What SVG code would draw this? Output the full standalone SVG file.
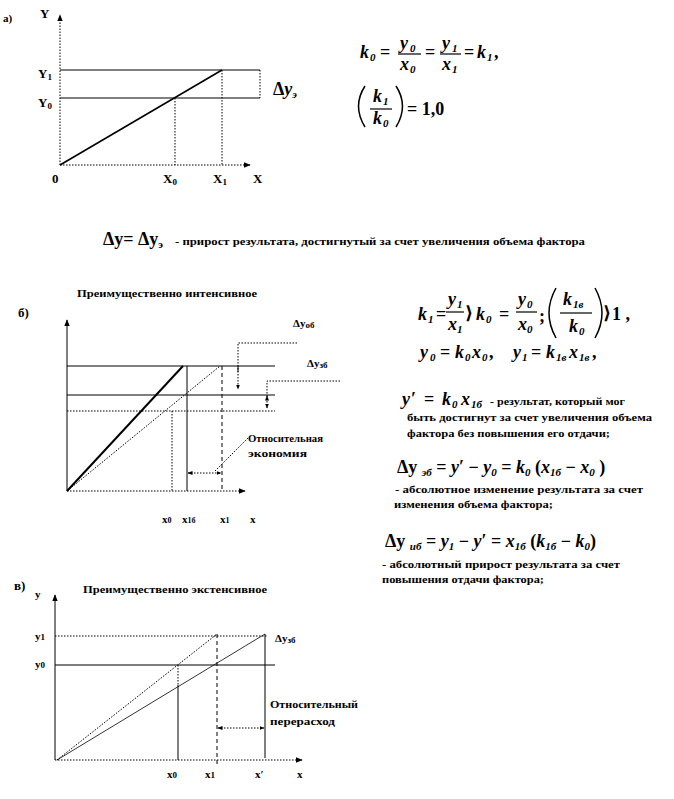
<svg xmlns="http://www.w3.org/2000/svg" width="674" height="799" viewBox="0 0 674 799" font-family="'Liberation Serif', 'DejaVu Serif', serif">
<defs>
<style>
text{font-family:"Liberation Serif","DejaVu Serif",serif;fill:#000}
.t{font-weight:bold;font-size:11px}
.L{font-weight:bold;font-size:13px}
.f{font-weight:bold;font-style:italic;font-size:18px}
.o{font-weight:bold;font-size:18px}
.b{font-weight:bold;font-style:italic;font-size:11px}
.sol{stroke:#000;stroke-width:1;fill:none}
.thk{stroke:#000;stroke-width:2;fill:none}
.dot{stroke:#000;stroke-width:1;stroke-dasharray:1.5 1.5;fill:none}
.dsh{stroke:#000;stroke-width:1;stroke-dasharray:4 3;fill:none}
.bar{stroke:#000;stroke-width:1.2}
.par{stroke:#000;stroke-width:1.5;fill:none}
</style>
<marker id="ar" viewBox="0 0 10 10" refX="9" refY="5" markerWidth="7" markerHeight="7" orient="auto-start-reverse"><path d="M0,1 L10,5 L0,9 z" fill="#000"/></marker>
<marker id="as" viewBox="0 0 10 10" refX="9" refY="5" markerWidth="5" markerHeight="5" orient="auto-start-reverse"><path d="M0,1 L10,5 L0,9 z" fill="#000"/></marker>
</defs>
<rect width="674" height="799" fill="#fff"/>

<!-- Graph a -->
<g id="graphA">
<g id="connectorsA">
<line class="dot" x1="60" y1="165" x2="60" y2="15" marker-end="url(#ar)"/>
<line class="dot" x1="60" y1="165" x2="250" y2="165" marker-end="url(#ar)"/>
<line class="sol" x1="60" y1="70" x2="260" y2="70"/>
<line class="sol" x1="60" y1="98" x2="260" y2="98"/>
<line class="dot" x1="260" y1="70" x2="260" y2="98"/>
<line class="thk" x1="60" y1="165" x2="222" y2="70" style="stroke-width:1.6"/>
<line class="dot" x1="175" y1="98" x2="175" y2="165"/>
<line class="dot" x1="222" y1="70" x2="222" y2="165"/>
</g>
<text class="t" x="3" y="22">а)</text>
<text class="L" x="40" y="18">Y</text>
<text class="L" x="38" y="78">Y<tspan font-size="9" dy="2">1</tspan></text>
<text class="L" x="38" y="107">Y<tspan font-size="9" dy="2">0</tspan></text>
<text class="L" x="52" y="183">0</text>
<text class="L" x="163" y="183">X<tspan font-size="9" dy="2">0</tspan></text>
<text class="L" x="213" y="183">X<tspan font-size="9" dy="2">1</tspan></text>
<text class="L" x="253" y="183">X</text>
<text class="f" x="273" y="95"><tspan font-style="normal">Δ</tspan>y<tspan font-size="11" dy="3">э</tspan></text>
</g>

<!-- Formula a -->
<g id="formulaA">
<text class="f" x="360" y="58">k</text><text class="b" x="370" y="61">0</text>
<text class="o" x="380" y="58">=</text>
<text class="f" x="400" y="49">y</text><text class="b" x="410" y="52">0</text>
<line class="bar" x1="398" y1="54" x2="421" y2="54"/>
<text class="f" x="400" y="70">x</text><text class="b" x="410" y="73">0</text>
<text class="o" x="425" y="58">=</text>
<text class="f" x="442" y="49">y</text><text class="b" x="452" y="52">1</text>
<line class="bar" x1="440" y1="54" x2="461" y2="54"/>
<text class="f" x="442" y="70">x</text><text class="b" x="452" y="73">1</text>
<text class="o" x="464" y="58">=</text>
<text class="f" x="477" y="58">k</text><text class="b" x="487" y="61">1</text>
<text class="o" x="494" y="58">,</text>
<path class="par" d="M365,86 Q352,106 365,127"/>
<path class="par" d="M396,86 Q409,106 396,127"/>
<text class="f" x="373" y="102">k</text><text class="b" x="383" y="105">1</text>
<line class="bar" x1="370" y1="109" x2="392" y2="109"/>
<text class="f" x="373" y="124">k</text><text class="b" x="383" y="127">0</text>
<text class="o" x="407" y="115">= 1,0</text>
</g>

<!-- middle text -->
<g id="textMid">
<text class="o" x="103" y="245" font-size="17">Δy= Δy<tspan font-size="11" dy="3">э</tspan></text>
<text class="t" x="175" y="245" textLength="410" lengthAdjust="spacingAndGlyphs">- прирост результата,  достигнутый  за счет увеличения  объема фактора</text>
</g>

<!-- Graph b -->
<g id="graphB">
<text class="t" x="77" y="297" textLength="180" lengthAdjust="spacingAndGlyphs">Преимущественно интенсивное</text>
<text class="L" x="18" y="317">б)</text>
<g id="connectorsB">
<line class="sol" x1="67" y1="491" x2="67" y2="320" marker-end="url(#ar)"/>
<line class="dot" x1="67" y1="491" x2="245" y2="491" marker-end="url(#ar)"/>
<line class="sol" x1="67" y1="366" x2="275" y2="366"/>
<line class="sol" x1="67" y1="395" x2="275" y2="395"/>
<line class="dot" x1="67" y1="411" x2="275" y2="411"/>
<line class="thk" x1="67" y1="491" x2="183" y2="366"/>
<line class="dot" x1="67" y1="491" x2="220" y2="366"/>
<line class="sol" x1="187" y1="366" x2="187" y2="491"/>
<line class="dsh" x1="222" y1="366" x2="222" y2="491"/>
<line class="dot" x1="172" y1="411" x2="172" y2="491"/>
<line class="dot" x1="188" y1="473" x2="221" y2="473" marker-start="url(#as)" marker-end="url(#as)"/>
<line class="dot" x1="215" y1="471" x2="248" y2="438"/>
<polyline class="dot" points="297,343 238,343 238,389" marker-end="url(#as)"/>
<line class="sol" x1="238" y1="366" x2="238" y2="372"/>
<polyline class="dot" points="340,381 267,381 267,408" marker-end="url(#as)"/>
<line class="dot" x1="267" y1="400" x2="267" y2="396" marker-end="url(#as)"/>
</g>
<text class="t" x="293" y="327">Δy<tspan font-size="9" dy="1">об</tspan></text>
<text class="t" x="307" y="367">Δy<tspan font-size="9" dy="1">зб</tspan></text>
<text class="t" x="248" y="442" textLength="75" lengthAdjust="spacingAndGlyphs">Относительная</text>
<text class="t" x="248" y="457" textLength="59" lengthAdjust="spacingAndGlyphs">экономия</text>
<text class="t" x="162" y="523">x<tspan font-size="8">0</tspan></text>
<text class="t" x="182" y="523">x<tspan font-size="8">1б</tspan></text>
<text class="t" x="220" y="523">x<tspan font-size="8">1</tspan></text>
<text class="t" x="250" y="523">x</text>
</g>

<!-- Formulas b -->
<g id="formulaB">
<text class="f" x="418" y="320">k</text><text class="b" x="428" y="323">1</text>
<text class="o" x="436" y="320">=</text>
<text class="f" x="448" y="305">y</text><text class="b" x="457" y="308">1</text>
<line class="bar" x1="446" y1="312" x2="464" y2="312"/>
<text class="f" x="448" y="330">x</text><text class="b" x="457" y="333">1</text>
<text class="o" x="465" y="319" font-size="14">⟩</text>
<text class="f" x="476" y="320">k</text><text class="b" x="486" y="323">0</text>
<text class="o" x="499" y="320">=</text>
<text class="f" x="518" y="305">y</text><text class="b" x="527" y="308">0</text>
<line class="bar" x1="516" y1="312" x2="537" y2="312"/>
<text class="f" x="518" y="330">x</text><text class="b" x="527" y="333">0</text>
<text class="o" x="539" y="322" font-size="12">;</text>
<path class="par" d="M556,288 Q542,313 556,338"/>
<path class="par" d="M595,288 Q609,313 595,338"/>
<text class="f" x="563" y="305">k</text><text class="b" x="573" y="308" font-size="9">1в</text>
<line class="bar" x1="560" y1="313" x2="592" y2="313"/>
<text class="f" x="569" y="332">k</text><text class="b" x="579" y="335">0</text>
<text class="o" x="603" y="319" font-size="14">⟩</text>
<text class="o" x="612" y="320" font-size="17">1 ,</text>

<text class="f" x="420" y="358">y</text><text class="b" x="430" y="361">0</text>
<text class="o" x="440" y="358">=</text>
<text class="f" x="455" y="358">k</text><text class="b" x="465" y="361">0</text>
<text class="f" x="472" y="358">x</text><text class="b" x="482" y="361">0</text>
<text class="o" x="489" y="358" font-size="14">,</text>
<text class="f" x="513" y="358">y</text><text class="b" x="522" y="361">1</text>
<text class="o" x="531" y="358">=</text>
<text class="f" x="546" y="358">k</text><text class="b" x="556" y="361" font-size="9">1в</text>
<text class="f" x="569" y="358">x</text><text class="b" x="579" y="361" font-size="9">1в</text>
<text class="o" x="592" y="358" font-size="14">,</text>

<text class="f" x="402" y="405">y</text><text class="o" x="411" y="405">′</text>
<text class="o" x="424" y="405">=</text>
<text class="f" x="442" y="405">k</text><text class="b" x="452" y="408">0</text>
<text class="f" x="461" y="405">x</text><text class="b" x="471" y="408" font-size="10">1б</text>
<text class="t" x="490" y="405" textLength="135" lengthAdjust="spacingAndGlyphs">- результат,  который мог</text>
<text class="t" x="407" y="421" textLength="245" lengthAdjust="spacingAndGlyphs">быть достигнут  за счет увеличения объема</text>
<text class="t" x="407" y="437" textLength="203" lengthAdjust="spacingAndGlyphs">фактора без повышения его отдачи;</text>

<text class="f" x="397" y="473"><tspan font-style="normal">Δy </tspan><tspan font-size="11" dy="3">эб</tspan><tspan font-style="normal" dy="-3"> = </tspan>y<tspan font-style="normal">′ − </tspan>y<tspan font-size="11" dy="3">0</tspan><tspan font-style="normal" dy="-3"> = </tspan>k<tspan font-size="11" dy="3">0</tspan><tspan font-style="normal" dy="-3"> (</tspan>x<tspan font-size="11" dy="3">1б</tspan><tspan font-style="normal" dy="-3"> − </tspan>x<tspan font-size="11" dy="3">0</tspan><tspan font-style="normal" dy="-3"> )</tspan></text>
<text class="t" x="395" y="493" textLength="248" lengthAdjust="spacingAndGlyphs">-  абсолютное изменение результата за счет</text>
<text class="t" x="394" y="508" textLength="159" lengthAdjust="spacingAndGlyphs">изменения объема фактора;</text>
<text class="f" x="385" y="547"><tspan font-style="normal">Δy </tspan><tspan font-size="11" dy="3">иб</tspan><tspan font-style="normal" dy="-3"> = </tspan>y<tspan font-size="11" dy="3">1</tspan><tspan font-style="normal" dy="-3"> − </tspan>y<tspan font-style="normal">′ = </tspan>x<tspan font-size="11" dy="3">1б</tspan><tspan font-style="normal" dy="-3"> (</tspan>k<tspan font-size="11" dy="3">1б</tspan><tspan font-style="normal" dy="-3"> − </tspan>k<tspan font-size="11" dy="3">0</tspan><tspan font-style="normal" dy="-3">)</tspan></text>
<text class="t" x="382" y="568" textLength="238" lengthAdjust="spacingAndGlyphs">- абсолютный прирост  результата за счет</text>
<text class="t" x="382" y="583" textLength="162" lengthAdjust="spacingAndGlyphs">повышения отдачи фактора;</text>
</g>

<!-- Graph c -->
<g id="graphC">
<text class="L" x="14" y="590">в)</text>
<text class="t" x="83" y="593" textLength="184" lengthAdjust="spacingAndGlyphs">Преимущественно экстенсивное</text>
<g id="connectorsC">
<line class="sol" x1="55" y1="760" x2="55" y2="595" marker-end="url(#ar)"/>
<line class="dot" x1="55" y1="760" x2="302" y2="760" marker-end="url(#ar)"/>
<line class="dot" x1="55" y1="636" x2="268" y2="636"/>
<line class="sol" x1="55" y1="665" x2="275" y2="665"/>
<line class="dot" x1="57" y1="760" x2="217" y2="634"/>
<line class="sol" x1="57" y1="760" x2="265" y2="634" style="stroke-width:0.8"/>
<line class="dot" x1="178" y1="665" x2="178" y2="685"/>
<line class="sol" x1="178" y1="685" x2="178" y2="760"/>
<line class="dsh" x1="217" y1="634" x2="217" y2="765"/>
<line class="sol" x1="265" y1="634" x2="265" y2="758"/>
<line class="dot" x1="218" y1="728" x2="264" y2="728" marker-start="url(#as)" marker-end="url(#as)"/>
</g>
<text class="t" x="35" y="598">у</text>
<text class="t" x="35" y="640">y<tspan font-size="9">1</tspan></text>
<text class="t" x="35" y="668">y<tspan font-size="9">0</tspan></text>
<text class="t" x="275" y="642">Δy<tspan font-size="9" dy="1">зб</tspan></text>
<text class="t" x="270" y="708" textLength="88" lengthAdjust="spacingAndGlyphs">Относительный</text>
<text class="t" x="270" y="725" textLength="65" lengthAdjust="spacingAndGlyphs">перерасход</text>
<text class="t" x="167" y="778">x<tspan font-size="9">0</tspan></text>
<text class="t" x="205" y="778">x<tspan font-size="9">1</tspan></text>
<text class="t" x="255" y="778">x′</text>
<text class="t" x="297" y="778">x</text>
</g>
</svg>
